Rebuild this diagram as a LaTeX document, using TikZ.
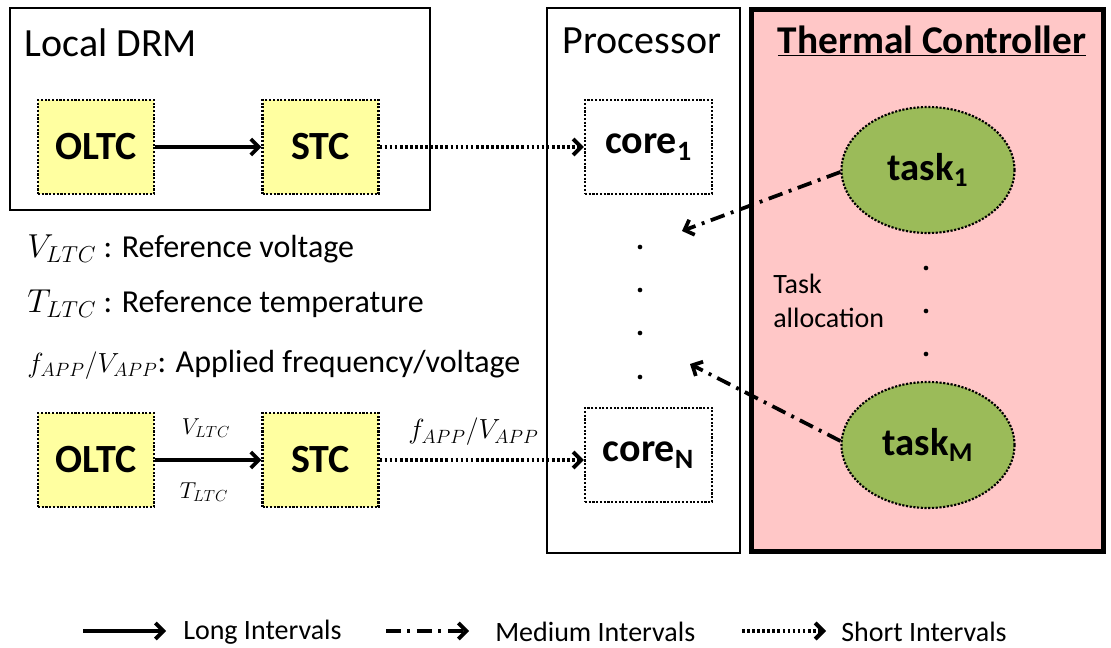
\documentclass[tikz,border=0pt]{standalone}
\usepackage{fontspec}
\setmainfont{Carlito}
\usetikzlibrary{arrows.meta,shapes.geometric}
\definecolor{boxyellow}{RGB}{255,255,160}
\definecolor{tcpink}{RGB}{255,199,199}
\definecolor{taskgreen}{RGB}{155,187,89}
\begin{document}
\begin{tikzpicture}[x=0.75pt,y=-0.75pt,
  ctrlbox/.style={draw=black,line width=1.6pt,dash pattern=on 1.6pt off 1.2pt,fill=boxyellow,
    minimum width=87pt,minimum height=70.5pt,inner sep=0pt,font=\fontsize{30}{33}\selectfont\bfseries},
  corebox/.style={draw=black,line width=1.6pt,dash pattern=on 1.6pt off 1.2pt,fill=white,
    minimum width=95.25pt,minimum height=70.5pt,inner sep=0pt,font=\fontsize{30}{33}\selectfont\bfseries},
  taskell/.style={ellipse,draw=black,line width=1.6pt,dash pattern=on 1.6pt off 1.2pt,fill=taskgreen,
    minimum width=129.75pt,minimum height=94.5pt,inner sep=0pt,font=\fontsize{29}{32}\selectfont\bfseries},
  longarr/.style={line width=2.8pt,-{Straight Barb[length=6pt,width=12pt]}},
  shortarr/.style={line width=3pt,dash pattern=on 2pt off 1.8pt,-{Straight Barb[length=6pt,width=12pt]}},
  medarr/.style={line width=2.8pt,dash pattern=on 11pt off 5pt on 2.2pt off 5pt,-{Straight Barb[length=6pt,width=12pt]}},
  title/.style={font=\fontsize{30}{33}\selectfont},
  explain/.style={font=\fontsize{24}{27}\selectfont,anchor=west,inner sep=0pt},
  legtext/.style={font=\fontsize{21}{24}\selectfont,anchor=west,inner sep=0pt},
  dotpt/.style={circle,fill=black,inner sep=0pt,minimum size=3.5pt}
]
\useasboundingbox (0,0) rectangle (1111,648);

% containers
\node[draw=black,line width=2pt,minimum width=315pt,minimum height=151.5pt,inner sep=0pt] (drm) at (220,109) {};
\node[title,anchor=west] (drmt) at (20,43) {Local DRM};
\node[draw=black,line width=1.6pt,minimum width=144.75pt,minimum height=408.75pt,inner sep=0pt] (proc) at (643.5,280.5) {};
\node[title] (proct) at (642,41) {Processor};
\node[draw=black,line width=3.4pt,fill=tcpink,minimum width=264pt,minimum height=406.5pt,inner sep=0pt] (tc) at (927.5,280.5) {};
\node[font=\fontsize{29.5}{32}\selectfont\bfseries] (tct) at (932,41) {\underline{Thermal Controller}};

% top controller pair
\node[ctrlbox] (oltc1) at (96,147) {OLTC};
\node[ctrlbox] (stc1) at (320.5,147) {STC};
\node[corebox] (core1) at (648.5,147) {core\textsubscript{1}};
\draw[longarr] (oltc1.east) -- (stc1.west);
\draw[shortarr] (stc1.east) -- (core1.west);

% explanations
\node[explain] (ex1) at (27,249) {$V_{LTC}$ : Reference voltage};
\node[explain] (ex2) at (27,304) {$T_{LTC}$ : Reference temperature};
\node[explain] (ex3) at (27,365) {{\fontsize{22}{25}\selectfont$f_{APP}/V_{APP}$}: Applied frequency/voltage};

% bottom controller pair
\node[ctrlbox] (oltc2) at (96,460) {OLTC};
\node[ctrlbox] (stc2) at (320.5,460) {STC};
\node[corebox] (coreN) at (648.5,455) {core\textsubscript{N}};
\draw[longarr] (oltc2.east) -- (stc2.west);
\draw[shortarr] (stc2.east) -- (stc2.east -| coreN.west);
\node[font=\fontsize{18.5}{21}\selectfont] (vl) at (206,428) {$V_{LTC}$};
\node[font=\fontsize{18.5}{21}\selectfont] (tl) at (204,492) {$T_{LTC}$};
\node[font=\fontsize{20}{23}\selectfont,anchor=west,inner sep=0pt] (fv) at (408,432) {$f_{APP}/V_{APP}$};

% processor dots
\node[dotpt] (pd1) at (640,247) {};
\node[dotpt] (pd2) at (640,290) {};
\node[dotpt] (pd3) at (640,333) {};
\node[dotpt] (pd4) at (640,377) {};

% tasks
\node[taskell] (task1) at (928,170) {task\textsubscript{1}};
\node[taskell] (taskM) at (928,445) {task\textsubscript{M}};
\node[dotpt] (td1) at (926,268) {};
\node[dotpt] (td2) at (926,311) {};
\node[dotpt] (td3) at (926,354) {};
\node[font=\fontsize{21}{24}\selectfont,align=left,anchor=west,inner sep=0pt] (alloc) at (773,301) {Task\\[2pt]allocation};

\coordinate (m1) at (682,231);
\coordinate (m2) at (690,364);
\draw[medarr] (task1.west) ++(0,2) -- (m1);
\draw[medarr] (taskM.west) ++(0,-4) -- (m2);

% legend
\coordinate (la1) at (83,631); \coordinate (lb1) at (166,631);
\draw[longarr] (la1) -- (lb1);
\node[legtext] (lt1) at (183,632) {Long Intervals};
\coordinate (la2) at (386,631); \coordinate (lb2) at (469,631);
\draw[medarr] (la2) -- (lb2);
\node[legtext] (lt2) at (495,632) {Medium Intervals};
\coordinate (la3) at (742,631); \coordinate (lb3) at (826,631);
\draw[shortarr] (la3) -- (lb3);
\node[legtext] (lt3) at (841,632) {Short Intervals};
\end{tikzpicture}
\end{document}
